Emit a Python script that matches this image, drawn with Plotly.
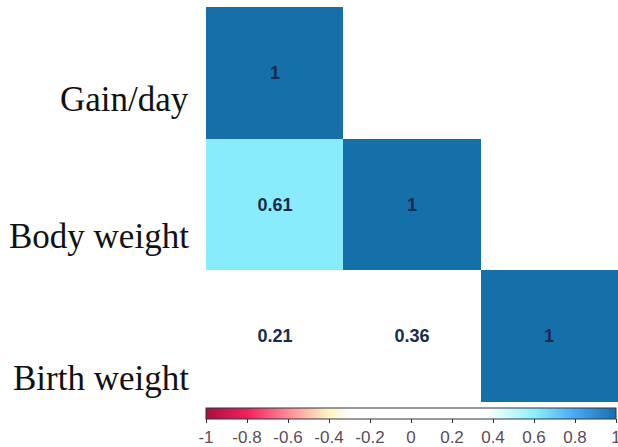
import plotly.graph_objects as go

# ---- data ----
variables = ["Gain/day", "Body weight", "Birth weight"]
row_gain = [1.0, None, None]
row_body = [0.61, 1.0, None]
row_birth = [0.21, 0.36, 1.0]
cbar_ticks = [-1, -0.8, -0.6, -0.4, -0.2, 0, 0.2, 0.4, 0.6, 0.8, 1]
cbar_ticktext = ["-1", "-0.8", "-0.6", "-0.4", "-0.2", "0", "0.2", "0.4", "0.6", "0.8", "1"]

z = [row_gain, row_body, row_birth]
text = [["" if v is None else f"{v:g}" for v in row] for row in z]

colorscale = [
    [0.0, "#a8103f"],
    [0.1, "#f0205a"],
    [0.2, "#ff8a96"],
    [0.3, "#fff5c4"],
    [0.36, "#ffffff"],
    [0.68, "#ffffff"],
    [0.7, "#f0ffff"],
    [0.8, "#8cf0fc"],
    [0.9, "#48a8f4"],
    [1.0, "#1570aa"],
]

fig = go.Figure(
    go.Heatmap(
        z=z,
        x=variables,
        y=variables,
        text=text,
        texttemplate="%{text}",
        textfont=dict(family="Liberation Sans, Arial", size=18, color="#1a2b4c", weight="bold"),
        colorscale=colorscale,
        zmin=-1,
        zmax=1,
        hoverongaps=False,
        colorbar=dict(
            orientation="h",
            x=0,
            xanchor="left",
            xpad=0,
            y=-0.0126,
            yanchor="top",
            ypad=0,
            len=0.995,
            lenmode="fraction",
            thickness=11,
            outlinewidth=1,
            outlinecolor="#333344",
            tickvals=cbar_ticks,
            ticktext=cbar_ticktext,
            ticks="outside",
            ticklen=4,
            tickcolor="#333333",
            ticklabeloverflow="allow",
            tickfont=dict(family="Liberation Sans, Arial", size=17, color="#5a4d55"),
        ),
    )
)

label_shifts = [-27, -32, -42]
for name, s in zip(variables, label_shifts):
    fig.add_annotation(
        x=0, xref="paper", xanchor="right", xshift=-15,
        y=name, yref="y", yanchor="middle", yshift=s,
        text=name, showarrow=False,
        font=dict(family="Liberation Serif, Times New Roman, serif", size=35, color="#111111"),
    )

fig.update_xaxes(showticklabels=False, showgrid=False, zeroline=False, showline=False, ticks="")
fig.update_yaxes(showticklabels=False, showgrid=False, zeroline=False, showline=False, ticks="",
                 autorange="reversed")
fig.update_layout(
    width=618,
    height=447,
    margin=dict(l=206, r=0, t=7, b=44),
    paper_bgcolor="white",
    plot_bgcolor="white",
)

fig.write_html(
    "out.html",
    config={"displayModeBar": False},
    post_script="document.body.style.margin='0';document.body.style.overflow='hidden';",
)
